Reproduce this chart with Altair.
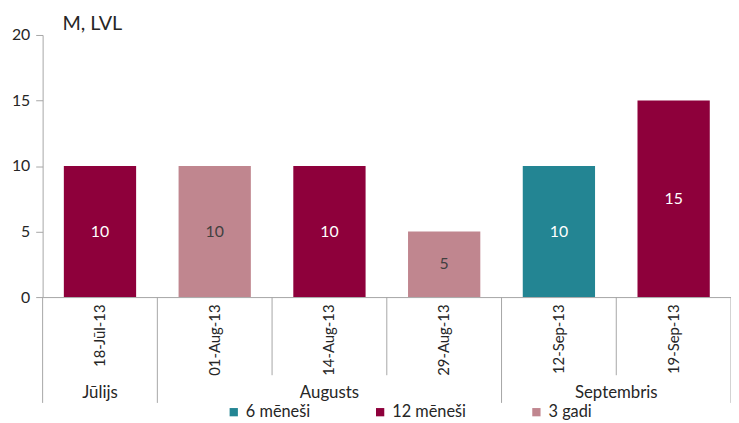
import altair as alt
import pandas as pd

dates = ["18-Jūl-13", "01-Aug-13", "14-Aug-13", "29-Aug-13", "12-Sep-13", "19-Sep-13"]
values = [10, 10, 10, 5, 10, 15]
terms = ["12 mēneši", "3 gadi", "12 mēneši", "3 gadi", "6 mēneši", "12 mēneši"]
term_order = ["6 mēneši", "12 mēneši", "3 gadi"]
term_colors = ["#238593", "#8E003B", "#C0868F"]
months = ["Jūlijs", "Augusts", "Septembris"]
month_anchor = ["18-Jūl-13", "14-Aug-13", "19-Sep-13"]
month_band = [0.5, 0.5, 0.0]
sep_dates = dates + [dates[-1]]
sep_band = [0, 0, 0, 0, 0, 0, 1]
sep_long = [1, 1, 0, 0, 1, 0, 1]
y_ticks = [0, 5, 10, 15, 20]
title_text = ["M, LVL"]

FONT = "Lato"
TXT = "#262626"
GRAY = "#A6A6A6"

df = pd.DataFrame({"date": dates, "value": values, "term": terms})
sep_df = pd.DataFrame({"date": sep_dates, "band": sep_band, "long": sep_long})
m_df = pd.DataFrame({"date": month_anchor, "band": month_band, "month": months})

xscale = alt.Scale(domain=dates, paddingInner=0, paddingOuter=0)

x_axis = alt.Axis(title=None, labelAngle=270, ticks=False, domainColor=GRAY,
                  labelFontSize=15, labelPadding=7, labelColor=TXT, labelFont=FONT)
y_axis = alt.Axis(title=None, values=y_ticks, grid=False, domainColor=GRAY,
                  tickColor=GRAY, tickSize=7, labelFontSize=16, labelPadding=6,
                  labelColor=TXT, labelFont=FONT)

bars = alt.Chart(df).mark_bar(width=alt.RelativeBandSize(0.63)).encode(
    x=alt.X("date:N", scale=xscale, sort=dates, axis=x_axis),
    y=alt.Y("value:Q", scale=alt.Scale(domain=[0, 20]), axis=y_axis),
    color=alt.Color("term:N", scale=alt.Scale(domain=term_order, range=term_colors),
                    legend=alt.Legend(orient="none", legendX=185, legendY=373,
                                      direction="horizontal", title=None,
                                      symbolType="square", symbolSize=70,
                                      symbolStrokeWidth=0, labelFontSize=16.5,
                                      labelFont=FONT, labelColor=TXT,
                                      labelOffset=4, columnPadding=62)),
)

labels = alt.Chart(df).transform_calculate(mid="datum.value / 2").mark_text(
    fontSize=16, font=FONT, baseline="middle").encode(
    x=alt.X("date:N", scale=xscale, sort=dates),
    y=alt.Y("mid:Q"),
    text=alt.Text("value:Q"),
    color=alt.condition(alt.datum.term == "3 gadi", alt.value("#404040"), alt.value("white")),
)

sep_long_left = alt.Chart(sep_df).transform_filter(
    "datum.long == 1 && datum.band == 0").mark_rule(color=GRAY).encode(
    x=alt.X("date:N", scale=xscale, sort=dates, bandPosition=0),
    y=alt.value(265), y2=alt.value(372))
sep_short_left = alt.Chart(sep_df).transform_filter(
    "datum.long == 0 && datum.band == 0").mark_rule(color=GRAY).encode(
    x=alt.X("date:N", scale=xscale, sort=dates, bandPosition=0),
    y=alt.value(265), y2=alt.value(344))
sep_right = alt.Chart(sep_df).transform_filter(
    "datum.band == 1").mark_rule(color=GRAY).encode(
    x=alt.X("date:N", scale=xscale, sort=dates, bandPosition=1),
    y=alt.value(265), y2=alt.value(372))

m_center = alt.Chart(m_df).transform_filter("datum.band == 0.5").mark_text(
    fontSize=17, font=FONT, color=TXT, baseline="middle").encode(
    x=alt.X("date:N", scale=xscale, sort=dates, bandPosition=0.5),
    y=alt.value(362), text="month:N")
m_edge = alt.Chart(m_df).transform_filter("datum.band == 0").mark_text(
    fontSize=17, font=FONT, color=TXT, baseline="middle").encode(
    x=alt.X("date:N", scale=xscale, sort=dates, bandPosition=0),
    y=alt.value(362), text="month:N")

title = alt.Chart(pd.DataFrame({"t": title_text})).mark_text(
    align="left", baseline="middle", fontSize=20, font=FONT, color=TXT).encode(
    x=alt.value(20), y=alt.value(-11), text="t:N")

chart = alt.layer(bars, labels, sep_long_left, sep_short_left, sep_right,
                  m_center, m_edge, title).properties(
    width=696, height=265,
    autosize=alt.AutoSizeParams(type="none"),
    padding={"left": 35, "top": 25, "right": 0, "bottom": 122},
).configure_view(stroke=None)

chart.save("out.html", embed_options={"renderer": "svg", "actions": False})
